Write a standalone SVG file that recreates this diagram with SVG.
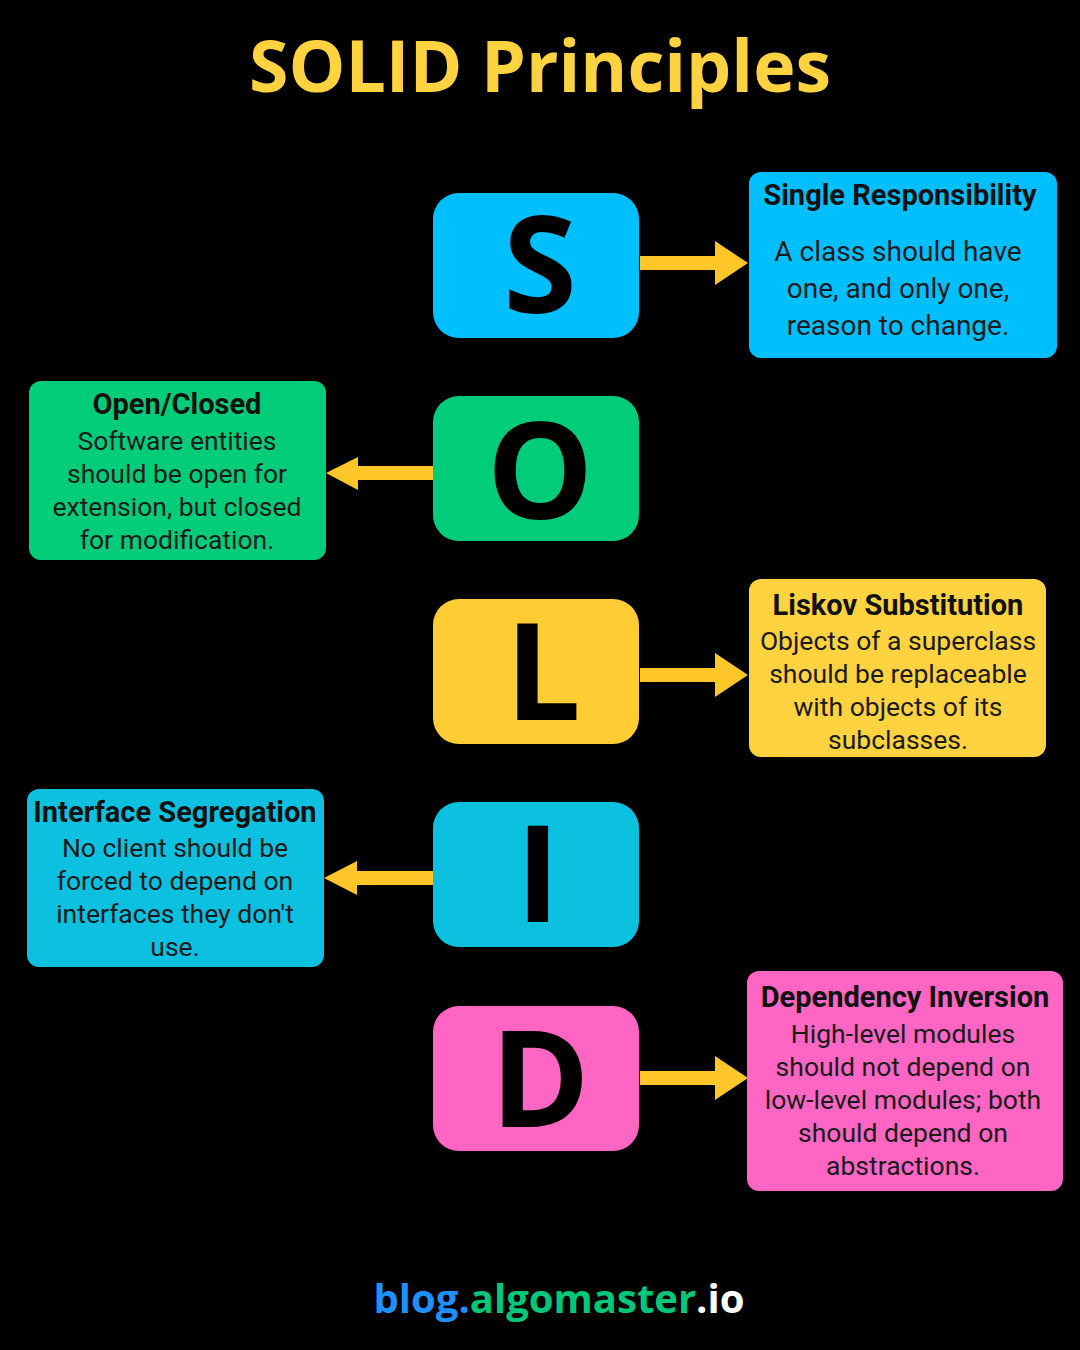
<svg xmlns="http://www.w3.org/2000/svg" width="1080" height="1350" viewBox="0 0 1080 1350">
<style>
.bg{fill:#000}
.letter{font-family:"Open Sans","Noto Sans",sans-serif;font-weight:700;font-size:134px;fill:#000;text-anchor:middle}
.ttl{font-family:"Roboto","Noto Sans",sans-serif;font-weight:700;font-size:29px;fill:#111;text-anchor:middle}
.body{font-family:"Roboto","Noto Sans",sans-serif;font-size:26.5px;fill:#1a1a1a;text-anchor:middle}
.big{font-size:28px}
.arrow{fill:#ffc629}
</style>
<rect class="bg" x="0" y="0" width="1080" height="1350"/>
<text x="540" y="92" font-family="Open Sans, Noto Sans, sans-serif" font-weight="700" font-size="72" fill="#ffd23f" text-anchor="middle" textLength="582" lengthAdjust="spacingAndGlyphs">SOLID Principles</text>

<g id="connectors">
  <g id="arrow-s"><rect class="arrow" x="640" y="256" width="78" height="14"/><polygon class="arrow" points="715,241 748,263 715,285"/></g>
  <g id="arrow-o"><rect class="arrow" x="355" y="466" width="78" height="14"/><polygon class="arrow" points="358,457 326,473 358,490"/></g>
  <g id="arrow-l"><rect class="arrow" x="640" y="668" width="78" height="14"/><polygon class="arrow" points="715,653 748,675 715,697"/></g>
  <g id="arrow-i"><rect class="arrow" x="353" y="871" width="80" height="14"/><polygon class="arrow" points="357,861 324,878 357,895"/></g>
  <g id="arrow-d"><rect class="arrow" x="640" y="1071" width="78" height="14"/><polygon class="arrow" points="715,1056 748,1078 715,1100"/></g>
</g>

<g id="node-S">
  <rect x="433" y="193" width="206" height="145" rx="26" fill="#00bfff"/>
  <text class="letter" x="540" y="313">S</text>
</g>
<g id="node-O">
  <rect x="433" y="396" width="206" height="145" rx="26" fill="#00cc7a"/>
  <text class="letter" x="540" y="519">O</text>
</g>
<g id="node-L">
  <rect x="433" y="599" width="206" height="145" rx="26" fill="#ffcc33"/>
  <text class="letter" x="543" y="720">L</text>
</g>
<g id="node-I">
  <rect x="433" y="802" width="206" height="145" rx="26" fill="#0cc0df"/>
  <text class="letter" x="538" y="922">I</text>
</g>
<g id="node-D">
  <rect x="433" y="1006" width="206" height="145" rx="26" fill="#ff66c4"/>
  <text class="letter" x="540" y="1127">D</text>
</g>

<g id="desc-S">
  <rect x="749" y="172" width="308" height="186" rx="12" fill="#00bfff"/>
  <text class="ttl" x="900" y="205">Single Responsibility</text>
  <text class="body big" x="898" y="261">A class should have</text>
  <text class="body big" x="898" y="298">one, and only one,</text>
  <text class="body big" x="898" y="335">reason to change.</text>
</g>
<g id="desc-O">
  <rect x="29" y="381" width="297" height="179" rx="12" fill="#00cc7a"/>
  <text class="ttl" x="177" y="414">Open/Closed</text>
  <text class="body" x="177" y="450">Software entities</text>
  <text class="body" x="177" y="483">should be open for</text>
  <text class="body" x="177" y="516">extension, but closed</text>
  <text class="body" x="177" y="549">for modification.</text>
</g>
<g id="desc-L">
  <rect x="749" y="579" width="297" height="178" rx="12" fill="#ffd23f"/>
  <text class="ttl" x="898" y="615">Liskov Substitution</text>
  <text class="body" x="898" y="650">Objects of a superclass</text>
  <text class="body" x="898" y="683">should be replaceable</text>
  <text class="body" x="898" y="716">with objects of its</text>
  <text class="body" x="898" y="749">subclasses.</text>
</g>
<g id="desc-I">
  <rect x="27" y="789" width="297" height="178" rx="12" fill="#0cc0df"/>
  <text class="ttl" x="175" y="822">Interface Segregation</text>
  <text class="body" x="175" y="857">No client should be</text>
  <text class="body" x="175" y="890">forced to depend on</text>
  <text class="body" x="175" y="923">interfaces they don't</text>
  <text class="body" x="175" y="956">use.</text>
</g>
<g id="desc-D">
  <rect x="747" y="971" width="316" height="220" rx="12" fill="#ff66c4"/>
  <text class="ttl" x="905" y="1007">Dependency Inversion</text>
  <text class="body" x="903" y="1043">High-level modules</text>
  <text class="body" x="903" y="1076">should not depend on</text>
  <text class="body" x="903" y="1109">low-level modules; both</text>
  <text class="body" x="903" y="1142">should depend on</text>
  <text class="body" x="903" y="1175">abstractions.</text>
</g>

<text x="559" y="1313" font-family="Open Sans, Noto Sans, sans-serif" font-weight="700" font-size="40" text-anchor="middle"><tspan fill="#1e90ff">blog.</tspan><tspan fill="#00c77a">algomaster</tspan><tspan fill="#ffffff">.io</tspan></text>
</svg>
